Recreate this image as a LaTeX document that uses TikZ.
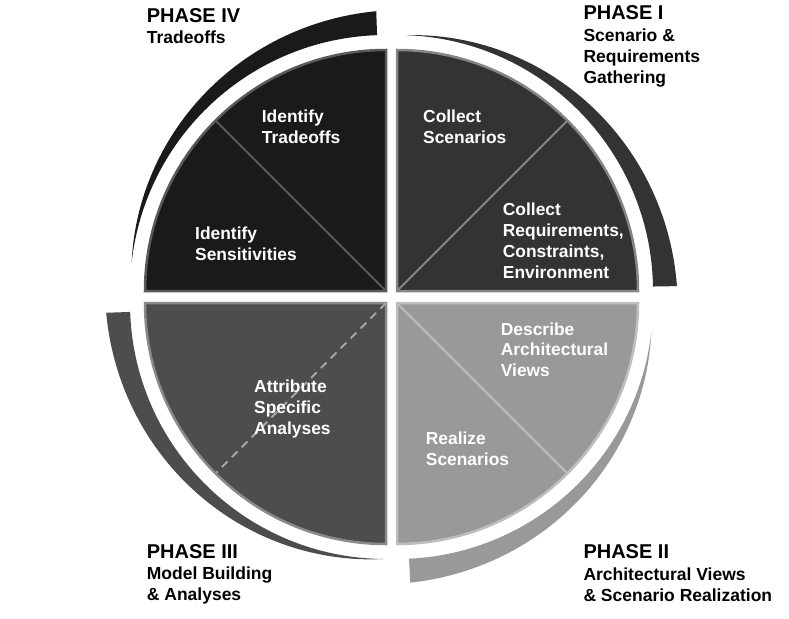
\documentclass[tikz,border=0pt]{standalone}
\usepackage{fontspec}
\setmainfont{Liberation Sans}
\usetikzlibrary{positioning}
\definecolor{qfour}{HTML}{1A1A1A}
\definecolor{qfourline}{HTML}{5A5A5A}
\definecolor{qone}{HTML}{333333}
\definecolor{qoneline}{HTML}{858585}
\definecolor{qtwo}{HTML}{999999}
\definecolor{qtwoline}{HTML}{BEBEBE}
\definecolor{qthree}{HTML}{4D4D4D}
\definecolor{qthreeline}{HTML}{8A8A8A}

\begin{document}
\begin{tikzpicture}[x=1pt, y=1pt,
    steplabel/.style={text=white, font=\bfseries\fontsize{17.4}{20.8}\selectfont, align=left, anchor=base west, inner sep=0pt},
    phasetitle/.style={font=\bfseries\fontsize{20}{24}\selectfont, anchor=base west, inner sep=0pt},
    phasesub/.style={font=\bfseries\fontsize{17.5}{21}\selectfont, align=left, anchor=base west, inner sep=0pt}]
    \useasboundingbox (0,0) rectangle (789,-618);

    % Quadrant corners
    \coordinate (cI) at (397,-291);
    \coordinate (cII) at (397,-303);
    \coordinate (cIII) at (386,-303);
    \coordinate (cIV) at (386,-291);
    \def\rad{241}
    \def\rin{256}
    \def\thk{24}

    % Outer arcs (thin tip -> thick end)
    \foreach \c/\ta/\tb/\col in {cI/88/1/qone, cII/-6.4/-87.3/qtwo, cIII/269.5/182/qthree, cIV/173.5/92/qfour} {
        \fill[\col, shift={(\c)}]
            plot[domain=\ta:\tb, samples=60] (\x:{\rin+\thk*(\x-(\ta))/((\tb)-(\ta))})
            -- (\tb:\rin) arc[start angle=\tb, end angle=\ta, radius=\rin] -- cycle;
    }

    % Quadrants
    \foreach \c/\a/\fc/\bc in {cI/0/qone/qoneline, cII/270/qtwo/qtwoline, cIII/180/qthree/qthreeline, cIV/90/qfour/qfourline} {
        \draw[fill=\fc, draw=\bc, line width=2.5pt, shift={(\c)}]
            (0,0) -- (\a:\rad) arc[start angle=\a, delta angle=90, radius=\rad] -- cycle;
    }

    % Dividers
    \draw[qfourline, line width=2pt] (cIV) -- ++(135:\rad-1);
    \draw[qoneline, line width=2pt] (cI) -- ++(45:\rad-1);
    \draw[qtwoline, line width=2pt] (cII) -- ++(-45:\rad-1);
    \draw[gray!70, line width=2pt, dash pattern=on 8pt off 6pt] (cIII) -- ++(225:\rad-1);

    % Steps (anchored at the baseline of the last line)
    \node[steplabel] (identTrade) at (261.7,-143.3) {Identify\\Tradeoffs};
    \node[steplabel] (identSens) at (195,-260) {Identify\\Sensitivities};
    \node[steplabel] (collectScen) at (423,-143.3) {Collect\\Scenarios};
    \node[steplabel] (collectReq) at (502.7,-278.3) {Collect\\Requirements,\\Constraints,\\Environment};
    \node[steplabel] (describeViews) at (500.7,-376.7) {Describe\\Architectural\\Views};
    \node[steplabel] (realizeScen) at (425.7,-465) {Realize\\Scenarios};
    \node[steplabel] (attrAnalyses) at (254,-434) {Attribute\\Specific\\Analyses};

    % Phase labels
    \node[phasetitle] (phaseIV) at (146.7,-22.7) {PHASE IV};
    \node[phasesub] (phaseIVsub) at (146.7,-43.3) {Tradeoffs};
    \node[phasetitle] (phaseI) at (583.3,-20) {PHASE I};
    \node[phasesub] (phaseIsub) at (583.3,-83.5) {Scenario \&\\Requirements\\Gathering};
    \node[phasetitle] (phaseIII) at (146.7,-558.3) {PHASE III};
    \node[phasesub] (phaseIIIsub) at (146.7,-600.5) {Model Building\\\& Analyses};
    \node[phasetitle] (phaseII) at (583.3,-558.3) {PHASE II};
    \node[phasesub] (phaseIIsub) at (583.3,-601) {Architectural Views\\\& Scenario Realization};
\end{tikzpicture}
\end{document}
